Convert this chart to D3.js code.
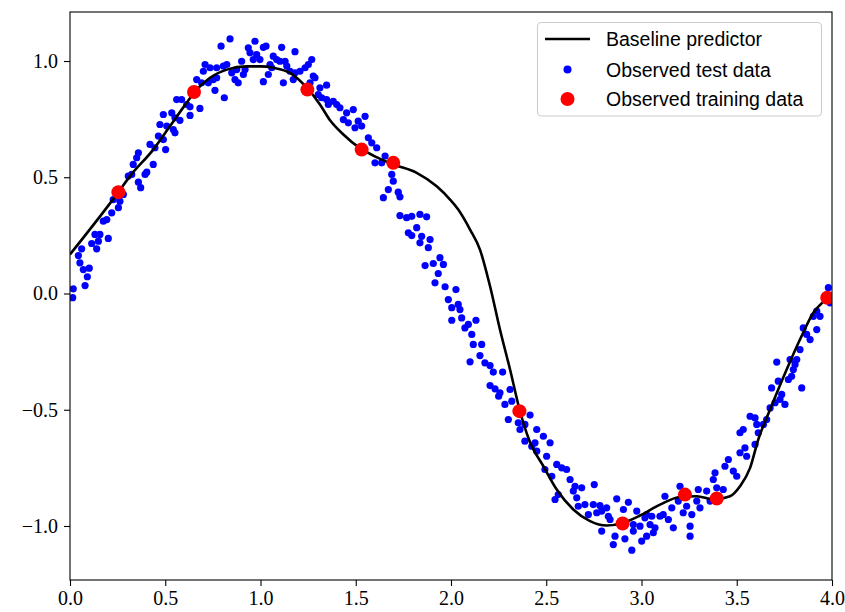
<!DOCTYPE html>
<html>
<head>
<meta charset="utf-8">
<script src="https://cdn.jsdelivr.net/npm/d3@7"></script>
<style>
  html, body { margin: 0; padding: 0; background: #fff; }
  svg { display: block; }
</style>
</head>
<body>
<svg id="chart" width="845" height="612"></svg>
<script>
// ---------------- DATA ----------------
const xTicks = [0.0, 0.5, 1.0, 1.5, 2.0, 2.5, 3.0, 3.5, 4.0];
const yTicks = [-1.0, -0.5, 0.0, 0.5, 1.0];
const legendLabels = ["Baseline predictor", "Observed test data", "Observed training data"];

// Baseline predictor curve (x, y)
const curveX = [0.0, 0.254, 0.315, 0.437, 0.525, 0.612, 0.665, 0.735, 0.823, 0.927, 1.0, 1.067, 1.155, 1.243, 1.312, 1.365, 1.435, 1.522, 1.60, 1.697, 1.82, 1.925, 1.995, 2.038, 2.10, 2.152, 2.205, 2.257, 2.31, 2.36, 2.415, 2.485, 2.555, 2.642, 2.73, 2.817, 2.905, 2.992, 3.097, 3.202, 3.29, 3.377, 3.465, 3.517, 3.57, 3.613, 3.675, 3.762, 3.832, 3.902, 3.99, 4.0];
const curveY = [0.168, 0.436, 0.505, 0.619, 0.72, 0.82, 0.877, 0.928, 0.963, 0.977, 0.977, 0.971, 0.949, 0.885, 0.813, 0.745, 0.684, 0.625, 0.59, 0.555, 0.519, 0.461, 0.404, 0.361, 0.275, 0.189, 0.031, -0.155, -0.327, -0.5, -0.64, -0.743, -0.843, -0.929, -0.979, -0.998, -0.986, -0.955, -0.908, -0.875, -0.872, -0.886, -0.872, -0.829, -0.75, -0.628, -0.499, -0.327, -0.198, -0.083, -0.012, -0.005];

// Observed training data
const trainX = [0.254, 0.651, 1.246, 1.531, 1.697, 2.359, 2.901, 3.228, 3.395, 3.975];
const trainY = [0.436, 0.867, 0.877, 0.619, 0.562, -0.506, -0.989, -0.865, -0.882, -0.018];

// Observed test data [x, y]
const testData = [
[0.306,0.505],[0.324,0.512],[0.394,0.512],[0.403,0.522],[0.359,0.479],[0.371,0.455],[0.280,0.426],[0.227,0.404],[0.262,0.397],[0.254,0.369],[0.219,0.347],[0.193,0.318],[0.175,0.311],[0.131,0.254],[0.157,0.254],[0.201,0.237],[0.114,0.215],[0.149,0.225],[0.140,0.192],[0.061,0.192],[0.044,0.163],[0.052,0.132],[0.101,0.109],[0.070,0.103],[0.091,0.072],[0.079,0.034],[0.017,0.020],[0.014,-0.018],
[0.840,1.095],[0.793,1.064],[0.936,1.057],[0.971,1.085],[0.945,1.035],[0.980,1.028],[0.962,1.006],[0.709,0.985],[0.735,0.971],[0.700,0.956],[0.805,0.978],[0.823,0.985],[0.770,0.971],[0.901,0.999],[0.875,0.963],[0.849,0.949],[0.866,0.920],[0.883,0.906],[0.770,0.928],[0.752,0.920],[0.726,0.906],[0.665,0.920],[0.691,0.906],[0.761,0.874],[0.810,0.842],[0.560,0.834],[0.586,0.834],[0.613,0.813],[0.630,0.803],[0.682,0.796],[0.490,0.770],[0.534,0.777],[0.551,0.756],[0.577,0.745],[0.630,0.766],[0.472,0.727],[0.508,0.720],[0.542,0.705],[0.551,0.691],[0.464,0.677],[0.490,0.662],[0.420,0.641],[0.446,0.627],[0.502,0.619],[0.359,0.605],[0.350,0.584],[0.437,0.555],[0.332,0.555],
[1.015,1.059],[1.029,1.064],[1.111,1.059],[0.997,1.006],[1.181,1.040],[1.067,1.021],[1.085,1.006],[1.102,0.999],[1.129,0.999],[0.919,0.963],[0.910,0.942],[1.269,1.006],[1.251,0.985],[1.234,0.971],[1.207,0.956],[1.181,0.949],[1.050,0.985],[1.059,0.971],[1.138,0.978],[1.155,0.956],[1.041,0.942],[1.015,0.911],[1.120,0.906],[1.172,0.920],[1.277,0.935],[1.286,0.928],[1.260,0.906],[1.312,0.885],[1.347,0.896],[1.303,0.856],[1.321,0.842],[1.347,0.834],[1.382,0.827],[1.400,0.813],[1.417,0.799],[1.356,0.813],[1.452,0.777],[1.487,0.791],[1.435,0.748],[1.461,0.734],[1.513,0.741],[1.496,0.713],[1.531,0.720],[1.549,0.762],
[1.566,0.670],[1.584,0.648],[1.610,0.627],[1.601,0.562],[1.636,0.562],[1.654,0.591],[1.689,0.512],[1.697,0.483],[1.671,0.447],[1.645,0.412],[1.723,0.436],[1.732,0.416],[1.732,0.335],[1.767,0.326],[1.794,0.332],[1.837,0.340],[1.872,0.330],[1.820,0.283],[1.776,0.261],[1.794,0.249],[1.846,0.246],[1.890,0.232],[1.837,0.218],[1.881,0.197],[1.942,0.154],[1.960,0.125],[1.907,0.129],[1.864,0.120],[1.933,0.086],[1.916,0.046],[1.969,0.029],[2.026,0.017],
[1.986,-0.026],[2.004,-0.061],[2.038,-0.047],[2.047,-0.069],[2.004,-0.115],[2.056,-0.105],[2.073,-0.148],[2.091,-0.133],[2.131,-0.115],[2.109,-0.176],[2.117,-0.219],[2.161,-0.219],[2.152,-0.267],[2.100,-0.294],[2.178,-0.298],[2.205,-0.310],[2.222,-0.338],[2.271,-0.338],[2.205,-0.396],[2.231,-0.410],[2.257,-0.427],[2.250,-0.442],[2.310,-0.413],[2.283,-0.477],[2.319,-0.463],[2.301,-0.542],[2.353,-0.556],[2.415,-0.523],[2.362,-0.585],[2.388,-0.635],[2.441,-0.642],[2.450,-0.585],[2.388,-0.563],[2.485,-0.614],[2.520,-0.642],[2.424,-0.657],[2.450,-0.678],[2.502,-0.700],[2.555,-0.735],[2.581,-0.750],[2.607,-0.757],[2.625,-0.800],[2.493,-0.757],[2.529,-0.786],[2.651,-0.829],[2.686,-0.836],[2.642,-0.850],[2.660,-0.879],[2.752,-0.822],[2.563,-0.865],[2.546,-0.886],[2.703,-0.908],[2.668,-0.915],[2.747,-0.908],[2.782,-0.912],[2.817,-0.922],[2.791,-0.936],[2.765,-0.943],[2.721,-0.951],[2.826,-0.958],[2.835,-0.972],[2.870,-0.883],[2.931,-0.898],[2.905,-0.929],[2.975,-0.936],[3.027,-0.951],[2.791,-1.022],[2.861,-1.044],[2.913,-1.055],[2.852,-1.080],[2.949,-1.104],[2.957,-0.994],[2.992,-1.001],[3.027,-1.044],[3.001,-1.065],[2.957,-1.022],[3.018,-0.965],[3.054,-0.958],[3.045,-0.994],[3.071,-1.008],[3.062,-1.029],[3.097,-0.958],[3.114,-0.951],[3.141,-0.972],[3.167,-1.008],[3.123,-0.872],[3.159,-0.922],[3.193,-0.893],[3.202,-0.829],[3.219,-0.943],[3.237,-0.915],[3.264,-0.951],[3.255,-1.001],[3.255,-1.044],[3.290,-0.893],[3.307,-0.922],[3.298,-0.843],[3.342,-0.850],[3.360,-0.893],[3.377,-0.800],[3.386,-0.771],[3.395,-0.836],[3.429,-0.843],[3.438,-0.743],[3.456,-0.714],[3.482,-0.764],[3.500,-0.786],[3.517,-0.685],[3.543,-0.664],[3.552,-0.700],[3.534,-0.585],[3.517,-0.599],[3.570,-0.528],[3.596,-0.535],[3.605,-0.563],[3.613,-0.599],
[3.981,0.025],[3.990,-0.040],[3.920,-0.076],[3.902,-0.098],[3.937,-0.098],[3.920,-0.155],[3.849,-0.148],[3.867,-0.176],[3.885,-0.198],[3.832,-0.241],[3.780,-0.284],[3.815,-0.284],[3.806,-0.305],[3.797,-0.327],[3.788,-0.356],[3.771,-0.370],[3.710,-0.295],[3.841,-0.406],[3.718,-0.377],[3.683,-0.406],[3.736,-0.434],[3.727,-0.456],[3.753,-0.477],[3.701,-0.470],[3.675,-0.492],[3.657,-0.542],[3.640,-0.563],[3.596,-0.649]
];

// ---------------- LAYOUT ----------------
const W = 845, H = 612;
const margin = { left: 70, right: 13, top: 12, bottom: 32 };
const plotW = W - margin.left - margin.right;   // 762
const plotH = H - margin.top - margin.bottom;   // 568

const x = d3.scaleLinear().domain([0, 4]).range([0, plotW]);
const y = d3.scaleLinear().domain([-1.2323, 1.2108]).range([plotH, 0]);

const svg = d3.select("#chart");
const g = svg.append("g").attr("transform", `translate(${margin.left},${margin.top})`);

svg.insert("rect", ":first-child").attr("width", W).attr("height", H).attr("fill", "#fff");

g.append("clipPath").attr("id", "plotclip")
  .append("rect").attr("x", 0).attr("y", 0).attr("width", plotW).attr("height", plotH);

const plot = g.append("g").attr("clip-path", "url(#plotclip)");

// Test data (blue)
plot.append("g").selectAll("circle").data(testData).join("circle")
  .attr("cx", d => x(d[0])).attr("cy", d => y(d[1]))
  .attr("r", 3.6).attr("fill", "#0000ff");

// Baseline line
const curvePts = curveX.map((v, i) => [v, curveY[i]]);
plot.append("path").datum(curvePts)
  .attr("fill", "none").attr("stroke", "#000").attr("stroke-width", 2.6)
  .attr("stroke-linejoin", "round")
  .attr("d", d3.line().x(d => x(d[0])).y(d => y(d[1])).curve(d3.curveMonotoneX));

// Training data (red)
plot.append("g").selectAll("circle").data(trainX.map((v, i) => [v, trainY[i]])).join("circle")
  .attr("cx", d => x(d[0])).attr("cy", d => y(d[1]))
  .attr("r", 7).attr("fill", "#ff0000");

// Axes
const fmt = v => {
  const s = Math.abs(v).toFixed(1);
  return v < 0 ? "\u2212" + s : s;
};
const xAxis = d3.axisBottom(x).tickValues(xTicks).tickFormat(fmt).tickSizeInner(6).tickSizeOuter(0).tickPadding(5);
const yAxis = d3.axisLeft(y).tickValues(yTicks).tickFormat(fmt).tickSizeInner(6).tickSizeOuter(0).tickPadding(6);

const gx = g.append("g").attr("transform", `translate(0,${plotH})`).call(xAxis);
const gy = g.append("g").call(yAxis);
[gx, gy].forEach(a => {
  a.select(".domain").remove();
  a.selectAll(".tick line").attr("stroke", "#000").attr("stroke-width", 1.1);
  a.selectAll(".tick text").attr("fill", "#000")
    .style("font-family", "'Liberation Serif', 'Times New Roman', serif")
    .style("font-size", "20px");
});

// Frame
g.append("rect").attr("x", 0).attr("y", 0).attr("width", plotW).attr("height", plotH)
  .attr("fill", "none").attr("stroke", "#000").attr("stroke-width", 1.1);

// Legend
const lg = svg.append("g");
lg.append("rect").attr("x", 537.5).attr("y", 22.5).attr("width", 284).attr("height", 93.5)
  .attr("rx", 4).attr("fill", "#fff").attr("fill-opacity", 0.8)
  .attr("stroke", "#cccccc").attr("stroke-width", 1.1);
const rowsY = [39, 69.5, 99];
lg.append("line").attr("x1", 545).attr("x2", 590).attr("y1", rowsY[0]).attr("y2", rowsY[0])
  .attr("stroke", "#000").attr("stroke-width", 2.6);
lg.append("circle").attr("cx", 567.5).attr("cy", rowsY[1]).attr("r", 4).attr("fill", "#0000ff");
lg.append("circle").attr("cx", 567.5).attr("cy", rowsY[2]).attr("r", 7).attr("fill", "#ff0000");
lg.selectAll("text.lbl").data(legendLabels).join("text").attr("class", "lbl")
  .attr("x", 606).attr("y", (d, i) => rowsY[i] + 7)
  .style("font-family", "'Liberation Sans', Arial, sans-serif")
  .style("font-size", "19.5px").attr("fill", "#000")
  .text(d => d);
</script>
</body>
</html>
